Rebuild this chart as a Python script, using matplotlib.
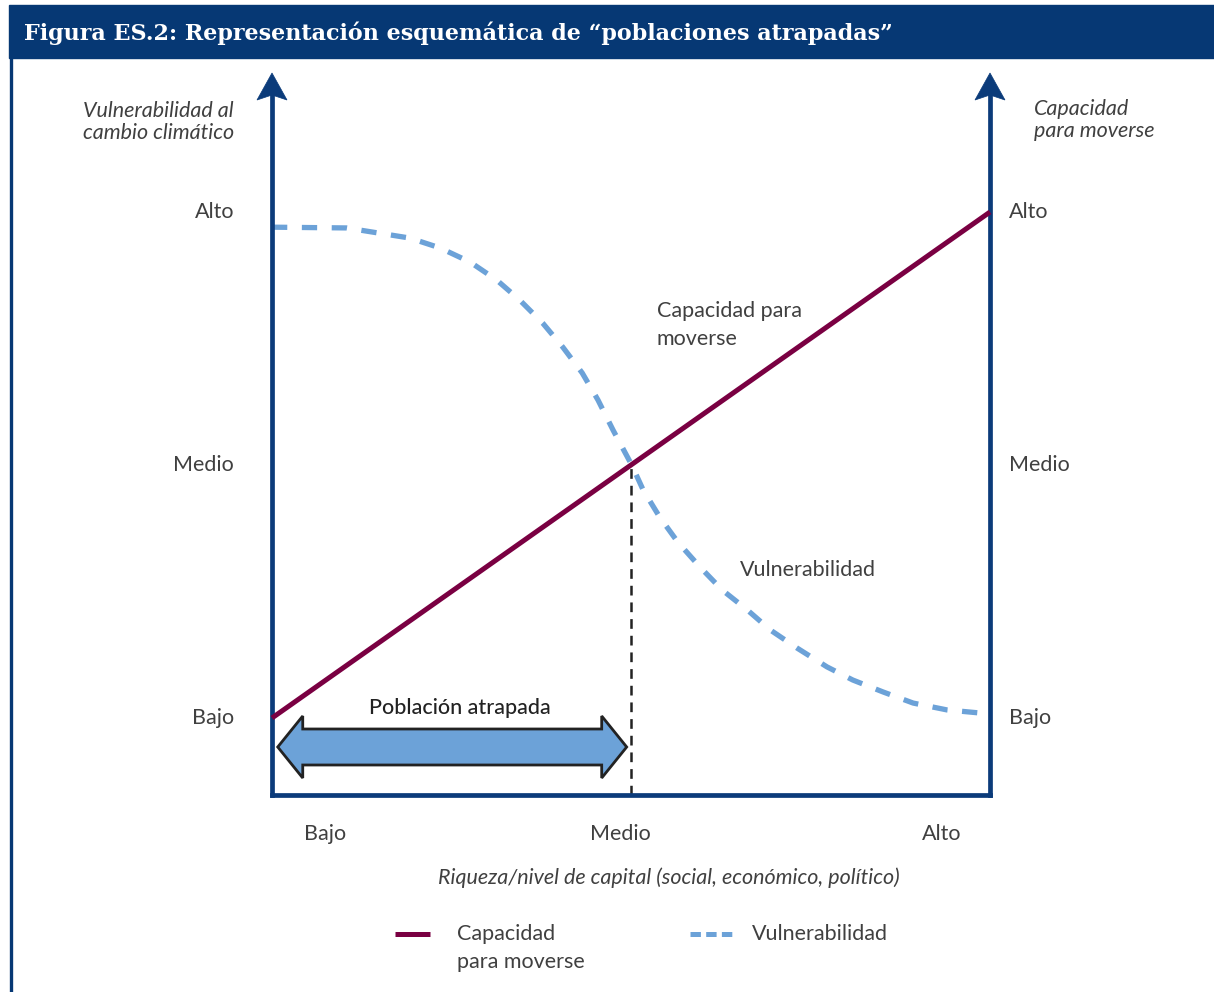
import matplotlib
matplotlib.use("Agg")
import matplotlib.pyplot as plt
from matplotlib.patches import Polygon, Rectangle
from matplotlib.lines import Line2D

# === Data ===
LEVELS = ["Bajo", "Medio", "Alto"]
LEVEL_VALUES = [1, 2, 3]
X_TICK_POS = [0.074, 0.485, 0.933]

# capacidad para moverse (straight line)
cap_x = [0.0, 1.0]
cap_y = [1.0, 3.0]

# vulnerabilidad
vul_x = [0.0, 0.104, 0.192, 0.234, 0.276, 0.313, 0.345, 0.377, 0.405, 0.432,
         0.454, 0.475, 0.501, 0.517, 0.540, 0.565, 0.596, 0.627, 0.662, 0.694,
         0.731, 0.773, 0.809, 0.851, 0.893, 0.940, 1.0]
vul_y = [2.940, 2.937, 2.897, 2.858, 2.802, 2.731, 2.652, 2.561, 2.466, 2.364,
         2.257, 2.138, 2.0, 1.901, 1.794, 1.696, 1.597, 1.506, 1.427, 1.348,
         1.277, 1.202, 1.150, 1.103, 1.059, 1.032, 1.016]

CROSS_X = 0.5
CROSS_Y = 2.0

# === Style ===
W, H = 1214, 992
NAVY = "#0B3B7A"
TITLE_BG = "#063874"
MAROON = "#7A0042"
LIGHTBLUE = "#6CA2D8"
TXT = "#404040"
FONT = "Lato"
FS = 15.5

plt.rcParams["lines.scale_dashes"] = False
plt.rcParams["font.family"] = [FONT, "DejaVu Sans"]


def fx(px):
    return px / W


def fy(py):
    return 1 - py / H


fig = plt.figure(figsize=(W / 100, H / 100), dpi=100)
fig.patch.set_facecolor("white")

# title bar + frame
fig.add_artist(Rectangle((fx(9), fy(58)), 1 - fx(9), fy(5) - fy(58),
                         transform=fig.transFigure, color=TITLE_BG, zorder=0))
fig.add_artist(Line2D([fx(10.5), fx(10.5)], [fy(58), 0], transform=fig.transFigure,
                      color=TITLE_BG, lw=2.4))
fig.text(fx(24), fy(33), "Figura ES.2: Representación esquemática de \u201cpoblaciones atrapadas\u201d",
         color="white", fontsize=16, fontweight="bold", family="DejaVu Serif",
         va="center", ha="left")

# main axes: x 0..1 between px 272 and 990; y levels Bajo/Medio/Alto at 718/465/212
ax_left, ax_right = 272, 990
ax_bottom, ax_top = 795, 75
ax = fig.add_axes([fx(ax_left), fy(ax_bottom), fx(ax_right) - fx(ax_left), fy(ax_top) - fy(ax_bottom)])
ax.set_xlim(0, 1)
y0 = 1 - (ax_bottom - 718) / 253
y1 = 3 + (212 - ax_top) / 253
ax.set_ylim(y0, y1)
ax.set_facecolor("none")
ax.set_xticks([])
ax.set_yticks([])
ax.spines["top"].set_visible(False)
for s in ["left", "right", "bottom"]:
    ax.spines[s].set_color(NAVY)
    ax.spines[s].set_linewidth(3.4)
    ax.spines[s].set_capstyle("projecting")
ax.spines["left"].set_bounds(y0, y1 - 0.08)
ax.spines["right"].set_bounds(y0, y1 - 0.08)

# arrow heads on vertical axes
for xa in [ax_left, ax_right]:
    pts = [(fx(xa), fy(73)), (fx(xa - 15), fy(100)), (fx(xa), fy(95)), (fx(xa + 15), fy(100))]
    fig.add_artist(Polygon(pts, closed=True, transform=fig.transFigure,
                           facecolor=NAVY, edgecolor=NAVY, lw=0.5))

# lines
ax.plot(cap_x, cap_y, color=MAROON, lw=3.6, solid_capstyle="butt", clip_on=False, zorder=3)
ax.plot(vul_x, vul_y, color=LIGHTBLUE, lw=3.8, dashes=(11, 10.5), dash_capstyle="butt",
        clip_on=False, zorder=2)
ax.plot([CROSS_X, CROSS_X], [y0, CROSS_Y], color="#222222", lw=1.8, dashes=(7, 5),
        zorder=1)

# trapped population double arrow (in data coords)
x_l, x_r = 0.008, 0.494
y_c = 1 - (747 - 718) / 253
body = 18 / 253
head = 31 / 253
hl = 25 / 718
arrow_pts = [(x_l, y_c), (x_l + hl, y_c + head), (x_l + hl, y_c + body),
             (x_r - hl, y_c + body), (x_r - hl, y_c + head), (x_r, y_c),
             (x_r - hl, y_c - head), (x_r - hl, y_c - body), (x_l + hl, y_c - body),
             (x_l + hl, y_c - head)]
ax.add_patch(Polygon(arrow_pts, closed=True, facecolor=LIGHTBLUE, edgecolor="#222222",
                     lw=2.0, joinstyle="miter", zorder=4))
ax.text((460 - ax_left) / 718, 1 - (708 - 718) / 253, "Población atrapada", ha="center",
        va="center", fontsize=FS, color="#222222", fontweight="medium")

# level labels
for lab, v in zip(LEVELS, LEVEL_VALUES):
    ax.text(-38 / 718, v, lab, ha="right", va="center", fontsize=FS, color=TXT)
    ax.text(1 + 19 / 718, v, lab, ha="left", va="center", fontsize=FS, color=TXT)
for lab, xp in zip(LEVELS, X_TICK_POS):
    fig.text(fx(ax_left + xp * 718), fy(834), lab, ha="center", va="center", fontsize=FS,
             color=TXT)

# axis titles
fig.text(fx(234), fy(122), "Vulnerabilidad al\ncambio climático", ha="right", va="center",
         fontsize=FS, style="italic", color=TXT, linespacing=1.15)
fig.text(fx(1034), fy(120), "Capacidad\npara moverse", ha="left", va="center",
         fontsize=FS, style="italic", color=TXT, linespacing=1.15)
fig.text(fx(669), fy(878), "Riqueza/nivel de capital (social, económico, político)", ha="center",
         va="center", fontsize=FS, style="italic", color=TXT)

# in-plot labels
fig.text(fx(657), fy(325), "Capacidad para\nmoverse", ha="left", va="center", fontsize=FS,
         color=TXT, linespacing=1.5)
fig.text(fx(740), fy(570), "Vulnerabilidad", ha="left", va="center", fontsize=FS, color=TXT)

# legend
fig.add_artist(Line2D([fx(395), fx(430)], [fy(934), fy(934)], transform=fig.transFigure,
                      color=MAROON, lw=3.6, solid_capstyle="butt"))
fig.text(fx(457), fy(948.5), "Capacidad\npara moverse", ha="left", va="center", fontsize=FS,
         color=TXT, linespacing=1.5)
fig.add_artist(Line2D([fx(690), fx(736)], [fy(934), fy(934)], transform=fig.transFigure,
                      color=LIGHTBLUE, lw=3.6, dashes=(7.5, 3.8), dash_capstyle="butt"))
fig.text(fx(752), fy(934), "Vulnerabilidad", ha="left", va="center", fontsize=FS, color=TXT)

fig.savefig("out.png", dpi=100)
